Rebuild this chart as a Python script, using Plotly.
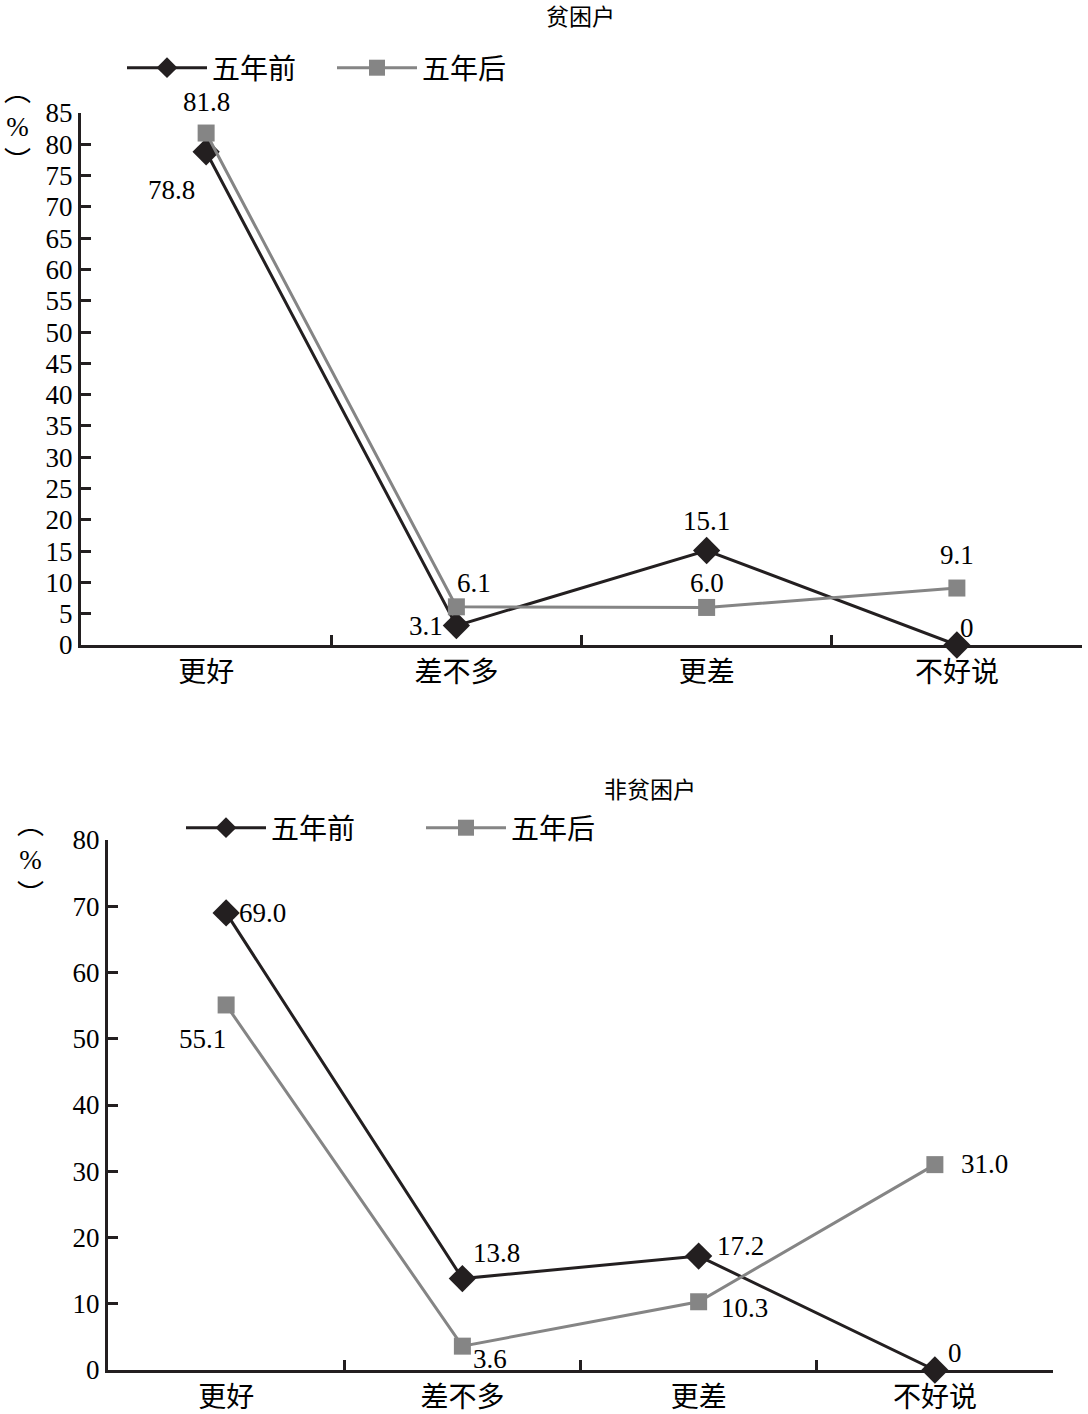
import plotly.graph_objects as go

categories = ["更好", "差不多", "更差", "不好说"]
series_names = ["五年前", "五年后"]

# 贫困户
poor_before = [78.8, 3.1, 15.1, 0]
poor_after = [81.8, 6.1, 6.0, 9.1]
poor_before_text = ["78.8", "3.1", "15.1", "0"]
poor_after_text = ["81.8", "6.1", "6.0", "9.1"]

# 非贫困户
nonpoor_before = [69.0, 13.8, 17.2, 0]
nonpoor_after = [55.1, 3.6, 10.3, 31.0]
nonpoor_before_text = ["69.0", "13.8", "17.2", "0"]
nonpoor_after_text = ["55.1", "3.6", "10.3", "31.0"]

top_ticks = list(range(0, 90, 5))
bottom_ticks = list(range(0, 90, 10))

# label offsets (px) from each point
poor_before_off = [(-35, -38), (-30, 0), (0, 29), (10, 17)]
poor_after_off = [(0, 31), (18, 24), (0, 24), (0, 33)]
nonpoor_before_off = [(36, 0), (34, 26), (42, 10), (20, 17)]
nonpoor_after_off = [(-24, -34), (28, -13), (46, -6), (50, 1)]

FONT = "Liberation Serif, Noto Sans CJK SC, serif"
DARK = "#231f20"
GREY = "#858585"


def W(px):
    return px / 1088


def H(px):
    return 1 - px / 1414


fig = go.Figure()


def add_series(x, y, name, color, symbol, size, legend, xa, ya):
    fig.add_trace(go.Scatter(
        x=x, y=y, name=name, mode="lines+markers",
        line=dict(color=color, width=3), marker=dict(symbol=symbol, size=size, color=color),
        cliponaxis=False, legend=legend, xaxis=xa, yaxis=ya))


def add_labels(x, y, texts, offs, xa, ya):
    for xi, yi, t, (dx, dy) in zip(x, y, texts, offs):
        fig.add_annotation(x=xi, y=yi, xref=xa, yref=ya, text=t, showarrow=False,
                           xshift=dx, yshift=dy, font=dict(size=27, family=FONT, color="black"))


add_series(categories, poor_before, series_names[0], DARK, "diamond", 21, "legend", "x", "y")
add_series(categories, poor_after, series_names[1], GREY, "square", 17, "legend", "x", "y")
add_series(categories, nonpoor_before, series_names[0], DARK, "diamond", 21, "legend2", "x2", "y2")
add_series(categories, nonpoor_after, series_names[1], GREY, "square", 17, "legend2", "x2", "y2")

add_labels(categories, poor_before, poor_before_text, poor_before_off, "x", "y")
add_labels(categories, poor_after, poor_after_text, poor_after_off, "x", "y")
add_labels(categories, nonpoor_before, nonpoor_before_text, nonpoor_before_off, "x2", "y2")
add_labels(categories, nonpoor_after, nonpoor_after_text, nonpoor_after_off, "x2", "y2")

axis_common = dict(showline=True, linecolor=DARK, linewidth=3, showgrid=False, zeroline=False,
                   ticks="inside", tickcolor=DARK, tickwidth=3, ticklen=10)
ytick_font = dict(size=27, color="black", family=FONT)
xtick_font = dict(size=28, color="black", family=FONT)

fig.update_layout(
    width=1088, height=1414, plot_bgcolor="white", paper_bgcolor="white",
    margin=dict(l=0, r=0, t=0, b=0, autoexpand=False), font=dict(family=FONT, color="black"),
    showlegend=True,
    xaxis=dict(domain=[W(81), W(1082)], anchor="y", type="category",
               tickson="boundaries", range=[-0.5, 3.5], tickfont=xtick_font, **axis_common),
    yaxis=dict(domain=[H(645), H(113)], anchor="x", range=[0, 85],
               tickvals=top_ticks, tickfont=ytick_font, **axis_common),
    xaxis2=dict(domain=[W(108), W(1053)], anchor="y2", type="category",
                tickson="boundaries", range=[-0.5, 3.5], tickfont=xtick_font, **axis_common),
    yaxis2=dict(domain=[H(1370), H(840)], anchor="x2", range=[0, 80],
                tickvals=bottom_ticks, tickfont=ytick_font, **axis_common),
    legend=dict(orientation="h", x=W(122), y=H(68), xanchor="left", yanchor="middle",
                font=dict(size=28, family=FONT), itemwidth=80, entrywidth=115,
                entrywidthmode="pixels", bgcolor="rgba(0,0,0,0)"),
    legend2=dict(orientation="h", x=W(181), y=H(828), xanchor="left", yanchor="middle",
                 font=dict(size=28, family=FONT), itemwidth=80, entrywidth=145,
                 entrywidthmode="pixels", bgcolor="rgba(0,0,0,0)"),
)

fig.add_annotation(text="贫困户", x=W(580), y=H(18), xref="paper", yref="paper",
                   xanchor="center", yanchor="middle",
                   showarrow=False, font=dict(size=23, family=FONT))
fig.add_annotation(text="非贫困户", x=W(650), y=H(790), xref="paper", yref="paper",
                   xanchor="center", yanchor="middle",
                   showarrow=False, font=dict(size=23, family=FONT))
fig.add_annotation(text="︵<br>%<br>︶", x=W(17), y=H(127), xref="paper", yref="paper",
                   xanchor="center", yanchor="middle",
                   showarrow=False, font=dict(size=27, family=FONT))
fig.add_annotation(text="︵<br>%<br>︶", x=W(30), y=H(860), xref="paper", yref="paper",
                   xanchor="center", yanchor="middle",
                   showarrow=False, font=dict(size=27, family=FONT))

fig.write_html("out.html", config={"displayModeBar": False},
               post_script="document.body.style.margin='0';")
